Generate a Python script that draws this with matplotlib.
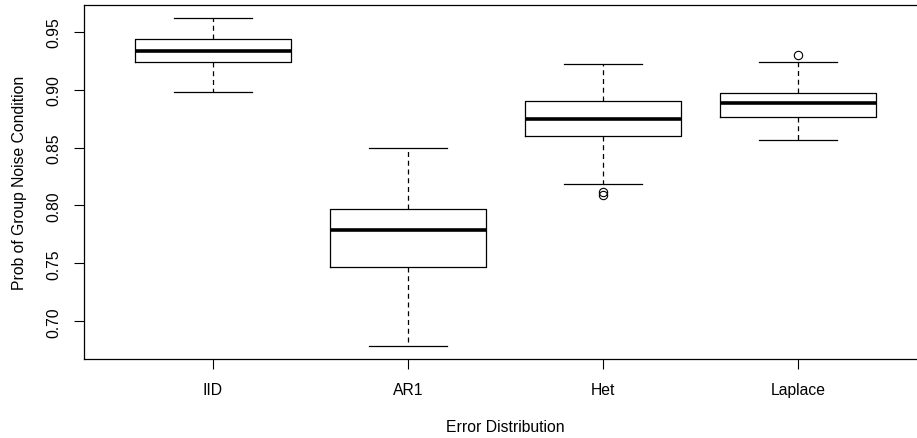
import matplotlib
matplotlib.use("Agg")
import matplotlib.pyplot as plt

# values
groups = ["IID", "AR1", "Het", "Laplace"]
whislo = [0.8983, 0.6787, 0.8184, 0.8565]
q1 = [0.9243, 0.7467, 0.8602, 0.8761]
medians = [0.9338, 0.7788, 0.8749, 0.8883]
q3 = [0.9439, 0.7973, 0.8900, 0.8972]
whishi = [0.9619, 0.8501, 0.9220, 0.9240]
outliers = [[], [], [0.8120, 0.8090], [0.9301]]

plt.rcParams["font.family"] = ["Liberation Sans", "DejaVu Sans"]

stats = []
for i, name in enumerate(groups):
    stats.append({
        "label": name,
        "whislo": whislo[i],
        "q1": q1[i],
        "med": medians[i],
        "q3": q3[i],
        "whishi": whishi[i],
        "fliers": outliers[i],
    })

fig = plt.figure(figsize=(9.17, 4.39), dpi=100)
ax = fig.add_axes([84 / 917, 79 / 439, (927 - 84) / 917, (360 - 6) / 439])

ax.bxp(
    stats,
    positions=[1, 2, 3, 4],
    widths=0.8,
    patch_artist=False,
    boxprops=dict(color="black", linewidth=0.9),
    medianprops=dict(color="black", linewidth=2.6, solid_capstyle="butt"),
    whiskerprops=dict(color="black", linewidth=0.9, linestyle=(0, (4, 3))),
    capprops=dict(color="black", linewidth=0.9),
    capwidths=0.4,
    flierprops=dict(marker="o", markerfacecolor="none", markeredgecolor="black",
                    markersize=6, markeredgewidth=0.8),
)

ax.set_xlim(0.34, 4.66)
ax.set_ylim(0.6674, 0.9732)
ax.set_yticks([0.70, 0.75, 0.80, 0.85, 0.90, 0.95])
ax.set_yticklabels(["0.70", "0.75", "0.80", "0.85", "0.90", "0.95"], rotation=90, va="center")
ax.set_xticks([1, 2, 3, 4])
ax.set_xticklabels(groups)
ax.tick_params(axis="both", labelsize=11.3, length=7.5, width=0.8, pad=9)
for sp in ax.spines.values():
    sp.set_linewidth(0.9)
ax.spines["right"].set_visible(False)

ax.set_xlabel("Error Distribution", fontsize=11.3, labelpad=16)
ax.set_ylabel("Prob of Group Noise Condition", fontsize=11.3, labelpad=14)

fig.savefig("out.png", dpi=100)
